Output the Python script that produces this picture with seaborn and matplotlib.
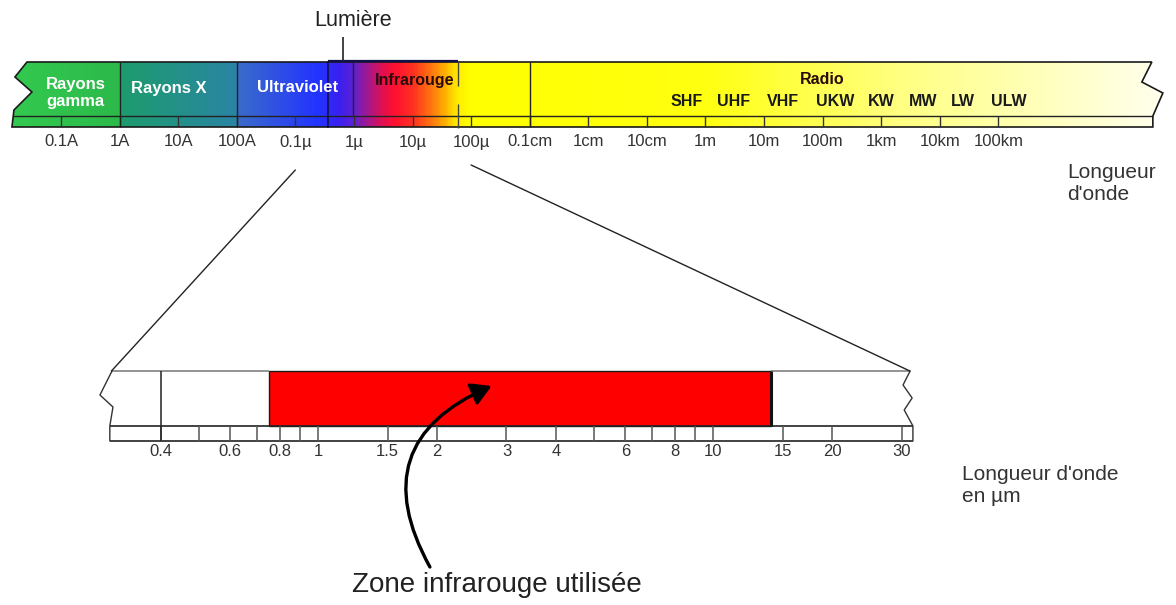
import numpy as np
import matplotlib
matplotlib.use("Agg")
import matplotlib.pyplot as plt
import seaborn as sns
from matplotlib.colors import LinearSegmentedColormap, Normalize
from matplotlib.patches import Polygon, ConnectionPatch

#%% Data
# top spectrum, wavelength in metres
top_ticks_m = [1e-11, 1e-10, 1e-9, 1e-8, 1e-7, 1e-6, 1e-5, 1e-4, 1e-3,
               1e-2, 1e-1, 1e0, 1e1, 1e2, 1e3, 1e4, 1e5]
top_tick_labels = ["0.1A", "1A", "10A", "100A", "0.1µ", "1µ", "10µ", "100µ",
                   "0.1cm", "1cm", "10cm", "1m", "10m", "100m", "1km",
                   "10km", "100km"]
band_edges_m = [1e-10, 1e-8, 9.5e-7, 1e-3]
band_names = ["Rayons\ngamma", "Rayons X", "Ultraviolet", "Infrarouge", "Radio"]
band_label_m = [1.8e-11, 7e-10, 1.1e-7, 1.1e-5, 100]
radio_bands = ["SHF", "UHF", "VHF", "UKW", "KW", "MW", "LW", "ULW"]
radio_label_m = [0.48, 3.05, 21, 162, 980, 5.1e3, 2.45e4, 1.5e5]
light_box_m = [3.6e-7, 6e-5]
light_mark_m = 6.5e-7
zoom_from_m = [1e-7, 1e-4]

# colour along the spectrum: (log10 wavelength, colour)
spectrum_stops = [(-11.9, "#33c94f"), (-10.0, "#2bb94a"), (-10.0, "#1c9c6c"),
                  (-8.0, "#2a84a4"), (-8.0, "#3a6cc8"), (-6.6, "#2232ff"),
                  (-6.25, "#3a20f0"), (-6.0, "#6020d0"), (-5.77, "#a01890"),
                  (-5.52, "#e01050"), (-5.3, "#ff1030"), (-5.0, "#ff3020"),
                  (-4.7, "#ff7010"), (-4.45, "#ffb000"), (-4.22, "#ffee00"),
                  (-4.0, "#ffff00"), (0.0, "#ffff10"), (3.3, "#ffff80"),
                  (7.9, "#fffff0")]

# zoomed scale, µm
zoom_range_um = [0.3, 31.5]
bottom_ticks_um = [0.4, 0.5, 0.6, 0.7, 0.8, 0.9, 1, 1.5, 2, 3, 4, 5, 6, 7, 8,
                   9, 10, 15, 20, 30]
bottom_labels_um = [0.4, 0.6, 0.8, 1, 1.5, 2, 3, 4, 6, 8, 10, 15, 20, 30]
ir_zone_um = [0.75, 14]

#%% Style
sns.set_theme(style="white")
plt.rcParams["font.family"] = ["Liberation Sans", "DejaVu Sans"]
TXT = "#333333"

fig = plt.figure(figsize=(11.76, 6.05), dpi=100)
ax = fig.add_axes([0, 0, 1, 1])
ax.set_xscale("log")
ax.set_xlim(10 ** -12.04, 10 ** 8.03)
ax.set_ylim(605, 0)
ax.axis("off")

#%% Top spectrum bar
vals, cols = zip(*spectrum_stops)
lo, hi = vals[0], vals[-1]
cmap = LinearSegmentedColormap.from_list(
    "spec", [((v - lo) / (hi - lo), c) for v, c in spectrum_stops], N=1024)
edges = np.linspace(lo, hi, 1200)
centers = (edges[:-1] + edges[1:]) / 2
mesh = ax.pcolormesh(10 ** edges, [62, 127], centers[None, :], cmap=cmap,
                     norm=Normalize(lo, hi), shading="flat", zorder=1)

outline = [(-11.58, 62), (7.618, 62), (7.447, 82), (7.806, 93), (7.635, 116),
           (7.635, 127), (-11.836, 127), (-11.802, 110), (-11.495, 92),
           (-11.785, 77)]
poly = Polygon([(10 ** x, y) for x, y in outline], closed=True,
               facecolor="none", edgecolor="#1a1a1a", lw=1.2, zorder=3)
ax.add_patch(poly)
mesh.set_clip_path(poly)

ax.hlines(116, 10 ** -11.81, 10 ** 7.635, color="#222222", lw=1, zorder=3)
ax.vlines(top_ticks_m, 116, 127, color="#333333", lw=1, zorder=3)
for e in band_edges_m:
    ax.vlines(e, 62, 116 if e == 9.5e-7 else 127, color="#222222", lw=1,
              zorder=3)

# visible light box
ax.hlines(61, light_box_m[0], light_box_m[1], color="#10104a", lw=1.6, zorder=4)
ax.vlines(light_box_m[0], 61, 128, color="#10104a", lw=1.2, zorder=4)
ax.vlines(light_box_m[1], 61, 86, color="#444444", lw=1, zorder=4)
ax.vlines(light_box_m[1], 104, 128, color="#444444", lw=1, zorder=4)
ax.vlines(light_mark_m, 37, 61, color="#222222", lw=1.2, zorder=4)
ax.text(9.6e-7, 21, "Lumière", ha="center", va="center", fontsize=15.5,
        color="#222222")

for lab, x in zip(band_names, band_label_m):
    dark = lab in ("Infrarouge", "Radio")
    ax.text(x, 93 if "gamma" in lab else (80 if dark else 88), lab,
            ha="center", va="center", fontsize=11.5 if dark else 12,
            fontweight="bold", color="#2a0a0a" if dark else "white",
            linespacing=1.15, zorder=5)
for lab, x in zip(radio_bands, radio_label_m):
    ax.text(x, 101, lab, ha="center", va="center", fontsize=11.5,
            fontweight="bold", color="#1a1a1a", zorder=5)
for lab, x in zip(top_tick_labels, top_ticks_m):
    ax.text(x, 142, lab, ha="center", va="center", fontsize=12, color=TXT)

#%% Zoomed infrared bar
axb = fig.add_axes([0, 0, 1, 1])
axb.patch.set_visible(False)
axb.set_xscale("log")
axb.set_xlim(10 ** -0.805, 10 ** 2.172)
axb.set_ylim(605, 0)
axb.axis("off")

axb.barh(398.5, ir_zone_um[1] - ir_zone_um[0], left=ir_zone_um[0], height=55,
         color="#ff0000", edgecolor="#1a1a1a", lw=1, zorder=2)
axb.vlines(ir_zone_um[1], 371, 426, color="#111111", lw=2.2, zorder=3)
axb.hlines(371, zoom_range_um[0], ir_zone_um[0], color="#8a8a8a", lw=1.3)
axb.hlines(371, ir_zone_um[1], zoom_range_um[1], color="#8a8a8a", lw=1.3)
axb.hlines([426, 441], 10 ** -0.527, 10 ** 1.506, color="#222222", lw=1.2)
axb.vlines(bottom_ticks_um, 426, 441, color="#555555", lw=1.1)
axb.vlines(bottom_labels_um[0], 371, 441, color="#222222", lw=1.1)

left_zig = [(-0.5215, 371), (-0.552, 395), (-0.519, 407), (-0.527, 426),
            (-0.527, 441)]
right_zig = [(1.499, 371), (1.481, 385), (1.504, 398), (1.484, 410),
             (1.506, 426), (1.506, 441)]
for zig in (left_zig, right_zig):
    xs, ys = zip(*zig)
    axb.plot(10 ** np.array(xs), ys, color="#333333", lw=1)

for v in bottom_labels_um:
    axb.text(v, 452, f"{v:g}", ha="center", va="center", fontsize=12,
             color=TXT)

# zoom lines from top spectrum to infrared bar
for xa, ya, xb in [(zoom_from_m[0], 170, zoom_range_um[0]),
                   (zoom_from_m[1], 165, zoom_range_um[1])]:
    fig.add_artist(ConnectionPatch(xyA=(xa, ya), coordsA=ax.transData,
                                   xyB=(xb, 371), coordsB=axb.transData,
                                   color="#222222", lw=1))

axb.annotate("", xy=(2.75, 386), xytext=(1.92, 567),
             arrowprops=dict(arrowstyle="-|>,head_length=0.6,head_width=0.35",
                             connectionstyle="arc3,rad=-0.55", color="black",
                             lw=2.4, mutation_scale=20, shrinkA=0, shrinkB=0))

fig.text(497 / 1176, 1 - 585 / 605, "Zone infrarouge utilisée", ha="center",
         va="center", fontsize=20, color="#222222")
fig.text(1067 / 1176, 1 - 163 / 605, "Longueur\nd'onde", ha="left", va="top",
         fontsize=15, color=TXT, linespacing=1.2)
fig.text(962 / 1176, 1 - 465 / 605, "Longueur d'onde\nen µm", ha="left",
         va="top", fontsize=15, color=TXT, linespacing=1.2)

fig.savefig("out.png", dpi=100)
